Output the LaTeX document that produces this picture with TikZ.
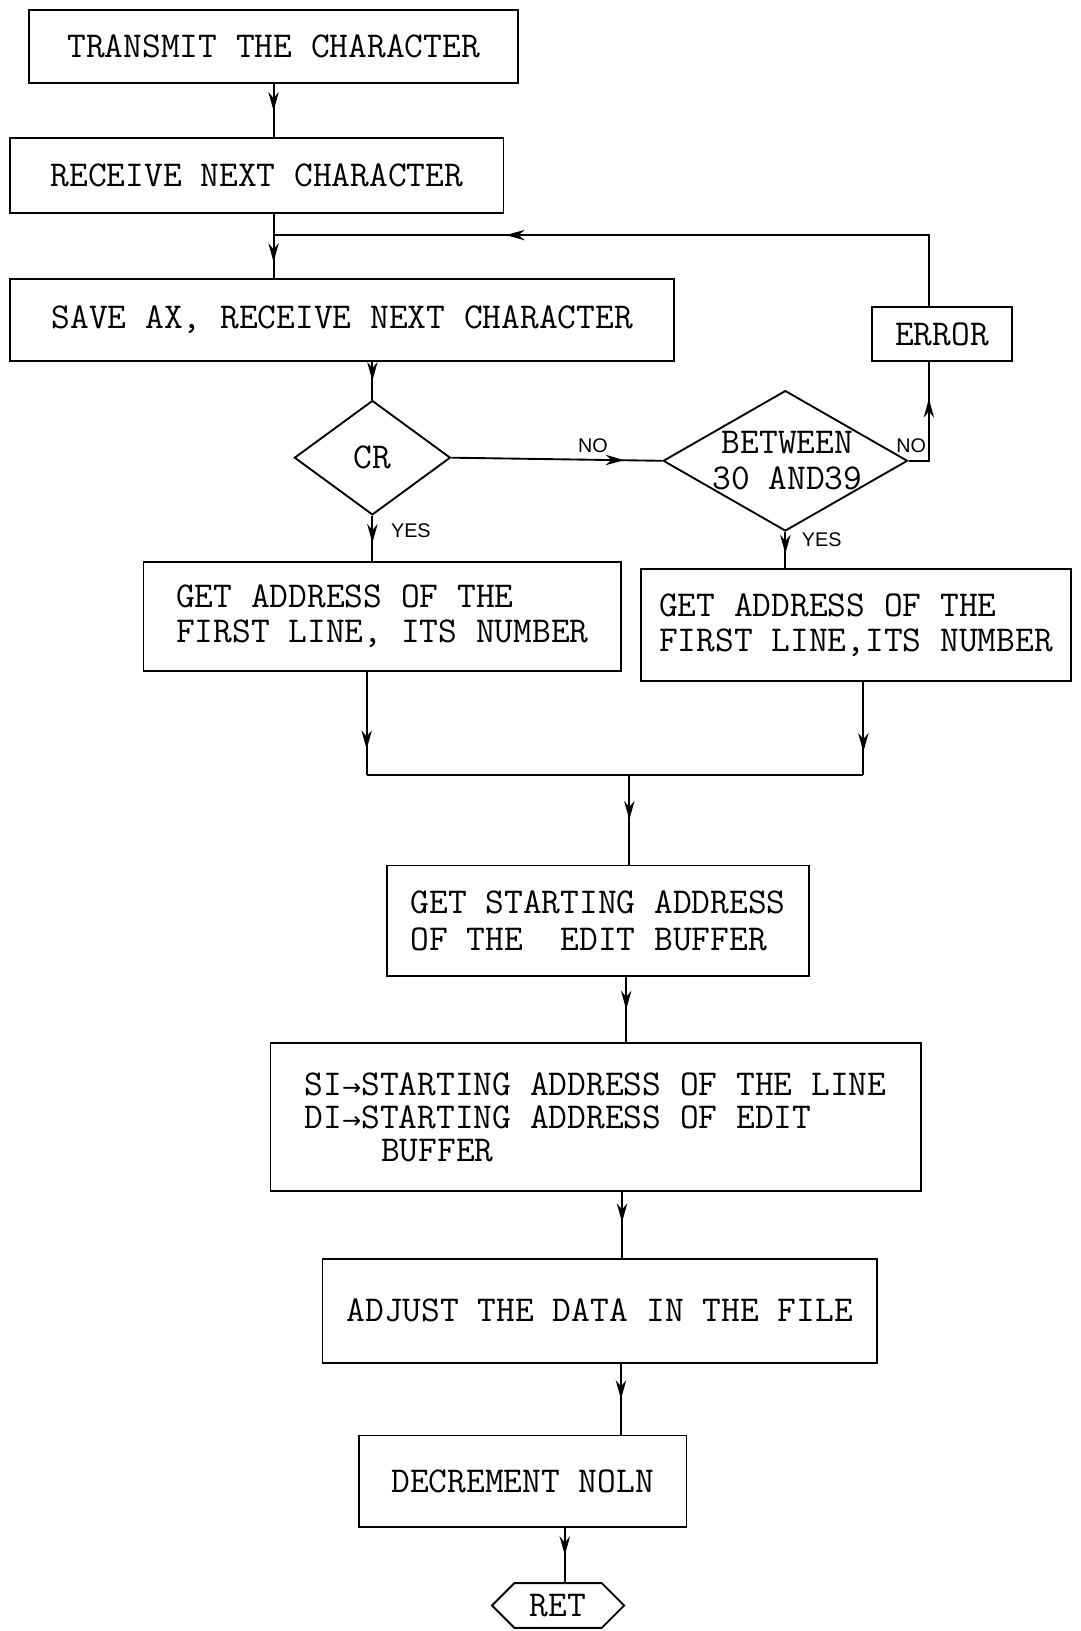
\documentclass[tikz,border=0pt]{standalone}
\usepackage{fontspec}
\setmonofont{Latin Modern Mono}
\newfontfamily\lblfont{Liberation Sans}
\newfontfamily\arrowfont{DejaVu Sans}
\usetikzlibrary{shapes.geometric,shapes.symbols,decorations.markings,arrows.meta}
\newcommand\twfont{\ttfamily\fontsize{17.5}{16.5}\selectfont}
\newcommand\sarr{{\arrowfont\fontsize{11}{11}\selectfont →}}
\begin{document}
\begin{tikzpicture}[x=0.5pt,y=-0.5pt,
  line width=0.9pt,
  box/.style={draw, line width=0.9pt, inner sep=0pt, font=\twfont, align=left},
  dia/.style={draw, diamond, line width=0.9pt, inner sep=0pt},
  lbl/.style={font=\lblfont\fontsize{9.5}{10}\selectfont, inner sep=1pt},
  marr/.style={decoration={markings, mark=at position #1 with {\arrow{Stealth[length=9pt,width=5pt]}}}, postaction={decorate}},
  marr/.default=0.5]
\useasboundingbox (0,0) rectangle (1039,1568);

\node[box, minimum width=235pt, minimum height=35pt] (b1) at (263,45) {TRANSMIT THE CHARACTER};
\node[box, minimum width=237pt, minimum height=36pt] (b2) at (247,169) {RECEIVE NEXT CHARACTER};
\node[box, minimum width=319pt, minimum height=39.5pt] (b3) at (329,307.5) {SAVE AX, RECEIVE NEXT CHARACTER};
\node[box, minimum width=67.5pt, minimum height=26pt] (err) at (905.5,321) {ERROR};
\node[dia, minimum width=75pt, minimum height=55pt] (cr) at (358,440) {};
\node[font=\twfont, inner sep=0pt] (crt) at (cr.center) {CR};
\node[dia, minimum width=117.5pt, minimum height=67.5pt] (btw) at (755,443) {};
\node[font=\ttfamily\fontsize{17.5}{17.5}\selectfont, align=center, inner sep=0pt] (btwt) at ([xshift=1pt]btw.center) {BETWEEN\\30 AND39};
\node[box, minimum width=229.5pt, minimum height=52.5pt] (b4) at (367.5,592.5) {GET ADDRESS OF THE\\FIRST LINE, ITS NUMBER};
\node[box, minimum width=207pt, minimum height=54pt] (b5) at (823,601) {GET ADDRESS OF THE\\FIRST LINE,ITS NUMBER};
\node[box, minimum width=203pt, minimum height=53pt, font=\ttfamily\fontsize{17.5}{18}\selectfont] (b6) at (575,885) {GET STARTING ADDRESS\\OF THE~ EDIT BUFFER};
\node[box, minimum width=312.5pt, minimum height=71pt, font=\ttfamily\fontsize{17.5}{16}\selectfont] (b7) at (572.5,1074) {SI\sarr STARTING ADDRESS OF THE LINE\\DI\sarr STARTING ADDRESS OF EDIT\\\hspace*{2.1em}BUFFER};
\node[box, minimum width=266.5pt, minimum height=50pt] (b8) at (576.5,1260) {ADJUST THE DATA IN THE FILE};
\node[box, minimum width=157.5pt, minimum height=44pt] (b9) at (502.5,1424) {DECREMENT NOLN};
\node[draw, signal, signal to=west and east, line width=0.9pt, inner sep=0pt, minimum width=63.5pt, minimum height=21.5pt, font=\twfont] (ret) at (536.5,1543.5) {RET};

\node[lbl] (no1) at (570,428) {NO};
\node[lbl] (no2) at (876,428) {NO};
\node[lbl] (yes1) at (395,510) {YES};
\node[lbl] (yes2) at (790,519) {YES};

\coordinate (fb) at (263,226);
\coordinate (m) at (605,745);

\draw[marr] (b1.south) -- (b1.south |- b2.north);
\draw[marr=0.75] (b2.south -| b1.south) -- (b3.north -| b1.south);
\draw[marr=0.68] ([xshift=-6.25pt]err.north) |- (fb);
\draw[marr] (b3.south -| cr.north) -- (cr.north);
\draw[marr=0.82] (cr.east) -- (btw.west);
\draw[marr=0.69] (btw.east) -| ([xshift=-6.25pt]err.south);
\draw[marr=0.6] (cr.south) -- (cr.south |- b4.north);
\draw[marr=0.6] (btw.south) -- (btw.south |- b5.north);
\draw[marr=0.75] ([xshift=-7.5pt]b4.south) -- ([xshift=-7.5pt]b4.south |- m) coordinate (jl);
\draw[marr=0.75] ([xshift=3.5pt]b5.south) -- ([xshift=3.5pt]b5.south |- m) coordinate (jr);
\draw (jl) -- (jr);
\draw[marr] (m) -- (m |- b6.north);
\draw[marr] ([xshift=13.5pt]b6.south) -- ([xshift=13.5pt]b6.south |- b7.north);
\draw[marr=0.46] ([xshift=12.75pt]b7.south) -- ([xshift=12.75pt]b7.south |- b8.north);
\draw[marr] ([xshift=10.25pt]b8.south) -- ([xshift=10.25pt]b8.south |- b9.north);
\draw[marr] ([xshift=20.25pt]b9.south) -- ([xshift=20.25pt]b9.south |- ret.north);
\end{tikzpicture}
\end{document}
